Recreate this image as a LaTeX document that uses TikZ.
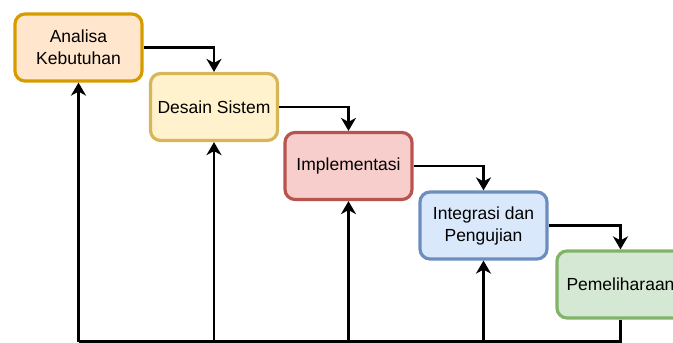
\documentclass[tikz,border=0pt]{standalone}
\usepackage{fontspec}
\setmainfont{Liberation Sans}
\usetikzlibrary{arrows.meta}
\definecolor{orF}{HTML}{FFE6CC}\definecolor{orD}{HTML}{D79B00}
\definecolor{yeF}{HTML}{FFF2CC}\definecolor{yeD}{HTML}{D6B656}
\definecolor{reF}{HTML}{F8CECC}\definecolor{reD}{HTML}{B85450}
\definecolor{blF}{HTML}{DAE8FC}\definecolor{blD}{HTML}{6C8EBF}
\definecolor{grF}{HTML}{D5E8D4}\definecolor{grD}{HTML}{82B366}
\tikzset{
  stage/.style={draw, line width=3.2pt, rounded corners=10pt, minimum width=127pt, minimum height=67pt,
    align=center, font=\fontsize{17.5}{22}\selectfont, inner sep=2pt},
  conn/.style={line width=2.6pt},
  arr/.style={conn, -{Stealth[length=13pt,width=15pt,inset=4pt]}}
}
\begin{document}
\begin{tikzpicture}[x=1pt,y=-1pt]
\useasboundingbox (0,0) rectangle (673,343);
\node[stage, fill=orF, draw=orD] (a) at (78.5,47.5) {Analisa\\Kebutuhan};
\node[stage, fill=yeF, draw=yeD] (b) at (214,107) {Desain Sistem};
\node[stage, fill=reF, draw=reD] (c) at (348.5,166) {Implementasi};
\node[stage, fill=blF, draw=blD] (d) at (483.5,225.5) {Integrasi dan\\Pengujian};
\node[stage, fill=grF, draw=grD] (e) at (620.5,284.5) {Pemeliharaan};
\coordinate (bot) at (0,341.5);
\draw[arr] (a.east) -| (b.north);
\draw[arr] (b.east) -| (c.north);
\draw[arr] (c.east) -| (d.north);
\draw[arr] (d.east) -| (e.north);
\draw[conn] (e.south) -- (e.south |- bot) -- (a.south |- bot);
\draw[arr] (a.south |- bot) -- (a.south);
\draw[arr] (b.south |- bot) -- (b.south);
\draw[arr] (c.south |- bot) -- (c.south);
\draw[arr] (d.south |- bot) -- (d.south);
\end{tikzpicture}
\end{document}
